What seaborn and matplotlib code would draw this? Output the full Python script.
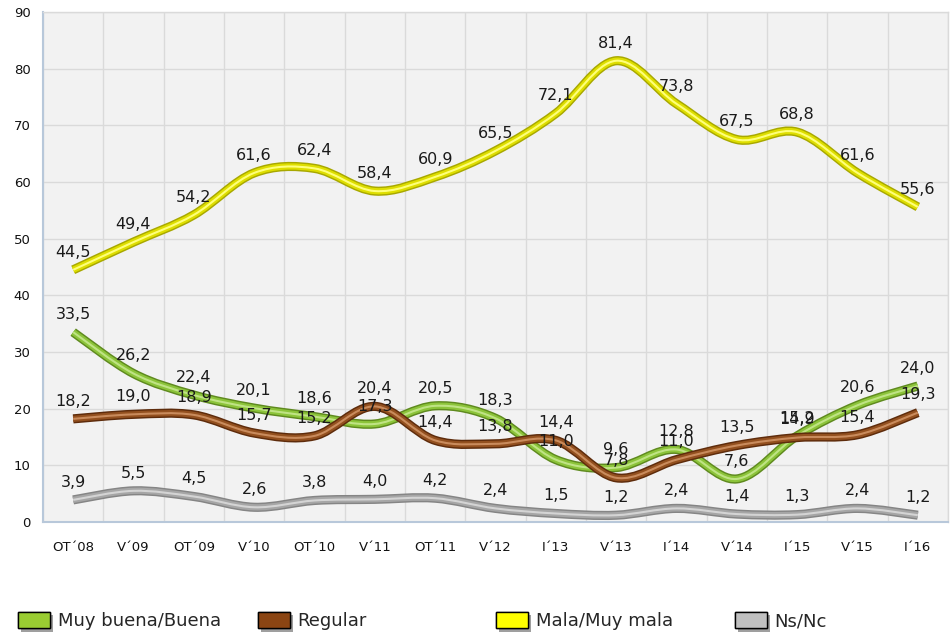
import numpy as np
import pandas as pd
import matplotlib
matplotlib.use("Agg")
import matplotlib.pyplot as plt
import seaborn as sns
from matplotlib.path import Path
from matplotlib.patches import PathPatch, Patch
import matplotlib.patheffects as pe

categories = ["OT´08", "V´09", "OT´09", "V´10", "OT´10", "V´11", "OT´11", "V´12",
              "I´13", "V´13", "I´14", "V´14", "I´15", "V´15", "I´16"]
muy_buena = [33.5, 26.2, 22.4, 20.1, 18.6, 17.3, 20.5, 18.3, 11.0, 9.6, 12.8, 7.6, 15.2, 20.6, 24.0]
regular = [18.2, 19.0, 18.9, 15.7, 15.2, 20.4, 14.4, 13.8, 14.4, 7.8, 11.0, 13.5, 14.9, 15.4, 19.3]
mala = [44.5, 49.4, 54.2, 61.6, 62.4, 58.4, 60.9, 65.5, 72.1, 81.4, 73.8, 67.5, 68.8, 61.6, 55.6]
nsnc = [3.9, 5.5, 4.5, 2.6, 3.8, 4.0, 4.2, 2.4, 1.5, 1.2, 2.4, 1.4, 1.3, 2.4, 1.2]
series_names = ["Muy buena/Buena", "Regular", "Mala/Muy mala", "Ns/Nc"]
y_ticks = [0, 10, 20, 30, 40, 50, 60, 70, 80, 90]

df = pd.DataFrame({"cat": categories, series_names[0]: muy_buena, series_names[1]: regular,
                   series_names[2]: mala, series_names[3]: nsnc})

sns.set_theme(style="whitegrid")
plt.rcParams["font.family"] = ["DejaVu Sans"]

# (outer, main, highlight, legend swatch)
styles = {
    "Muy buena/Buena": ("#5f8a1f", "#8cc43a", "#bfe384", "#9acd32"),
    "Regular": ("#5e2c0c", "#93501f", "#c98b5c", "#8b4513"),
    "Mala/Muy mala": ("#a8a800", "#dede00", "#ffff7a", "#ffff00"),
    "Ns/Nc": ("#858585", "#a6a6a6", "#d4d4d4", "#c0c0c0"),
}

fig = plt.figure(figsize=(9.5, 6.38), dpi=100)
ax = fig.add_axes([43 / 950, 1 - 522 / 638, 905 / 950, 510 / 638])
ax.set_facecolor("#f2f2f2")

x = np.arange(len(categories))


def smooth_path(xs, ys):
    pts = np.column_stack([xs, ys]).astype(float)
    n = len(pts)
    verts = [pts[0]]
    codes = [Path.MOVETO]
    for i in range(n - 1):
        p0 = pts[i - 1] if i > 0 else pts[i]
        p1 = pts[i]
        p2 = pts[i + 1]
        p3 = pts[i + 2] if i + 2 < n else pts[i + 1]
        c1 = p1 + (p2 - p0) / 6.0
        c2 = p2 - (p3 - p1) / 6.0
        verts += [c1, c2, p2]
        codes += [Path.CURVE4] * 3
    return Path(verts, codes)


order = ["Ns/Nc", "Mala/Muy mala", "Muy buena/Buena", "Regular"]
for name in order:
    vals = df[name].values
    path = smooth_path(x, vals)
    outer, main, hi, _ = styles[name]
    for lw, col in [(6.6, outer), (4.5, main), (1.5, hi)]:
        ax.add_patch(PathPatch(path, fill=False, edgecolor=col, lw=lw,
                               capstyle="butt", joinstyle="round", zorder=3))

for name in series_names:
    for xi, v in zip(x, df[name].values):
        ax.annotate(f"{v:.1f}".replace(".", ","), (xi, v), xytext=(0, 9.5),
                    textcoords="offset points", ha="center", va="baseline",
                    fontsize=11.5, color="#1a1a1a", zorder=5)

ax.set_xlim(-0.5, len(categories) - 0.5)
ax.set_ylim(0, 90)
ax.set_yticks(y_ticks)
ax.set_yticklabels([str(t) for t in y_ticks], fontsize=9.5, color="#111111")
ax.set_xticks(x)
ax.set_xticklabels(categories, fontsize=9.5, color="#111111")
ax.set_xticks(np.arange(-0.5, len(categories), 1.0), minor=True)
ax.grid(False)
ax.grid(True, which="minor", axis="x", color="#dadada", lw=1)
ax.grid(True, which="major", axis="y", color="#dadada", lw=1)
ax.tick_params(axis="x", which="both", length=0, pad=13.5)
ax.tick_params(axis="y", length=0, pad=9)
for s in ["left", "bottom"]:
    ax.spines[s].set_color("#b8c8da")
    ax.spines[s].set_linewidth(1.5)
for s in ["top", "right"]:
    ax.spines[s].set_color("#dadada")
    ax.spines[s].set_linewidth(1)

legend_x = [18, 258, 496, 735]
for name, lx in zip(series_names, legend_x):
    h = Patch(facecolor=styles[name][3], edgecolor="black", lw=1,
              path_effects=[pe.withSimplePatchShadow(offset=(2.5, -2.5), shadow_rgbFace="#777777", alpha=0.7),
                            pe.Normal()])
    fig.legend(handles=[h], labels=[name], loc="center left",
               bbox_to_anchor=(lx / 950, 1 - 621 / 638), frameon=False,
               fontsize=13, handlelength=1.75, handleheight=1.05,
               handletextpad=0.45, borderpad=0, borderaxespad=0)

fig.savefig("out.png", dpi=100, facecolor="white")
